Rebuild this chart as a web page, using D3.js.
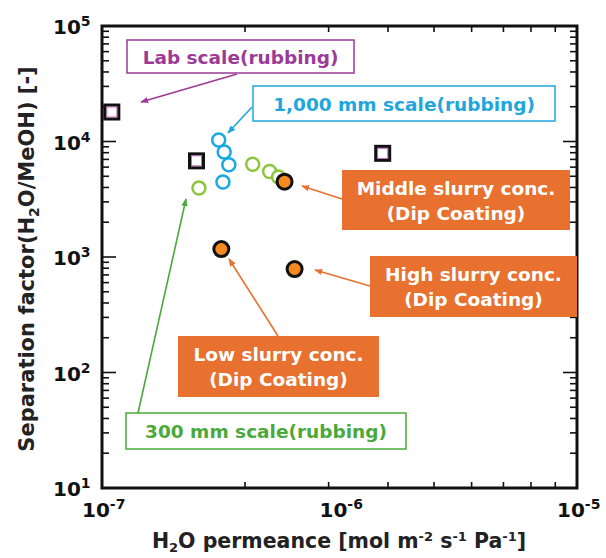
<!DOCTYPE html>
<html>
<head>
<meta charset="utf-8">
<script src="https://cdn.jsdelivr.net/npm/d3@7"></script>
<style>
  html, body { margin: 0; padding: 0; background: #fff; }
  svg { display: block; font-family: "DejaVu Sans", Verdana, sans-serif; }
</style>
</head>
<body>
<svg id="chart" width="606" height="558"></svg>
<script>
(function () {
  "use strict";

  // values: [permeance, separation factor]
  const labScale = [[1.1e-7, 1.8e4], [2.5e-7, 6.8e3], [1.52e-6, 7.9e3]];
  const scale1000 = [[3.1e-7, 1.03e4], [3.27e-7, 8.1e3], [3.42e-7, 6.3e3], [3.23e-7, 4.46e3]];
  const scale300 = [[2.56e-7, 3.95e3], [4.31e-7, 6.35e3], [5.08e-7, 5.5e3], [5.54e-7, 4.93e3]];
  const dipCoating = [[5.87e-7, 4.49e3], [3.18e-7, 1.17e3], [6.47e-7, 787]];

  const xMajor = [1e-7, 1e-6, 1e-5];
  const yMajor = [1e1, 1e2, 1e3, 1e4, 1e5];
  // the x minor ticks in the figure are not placed at 2..9 of each decade
  const xMinor = [4e-7, 9e-7, 1.6e-6, 2.5e-6, 3.6e-6, 4.9e-6, 6.4e-6, 8.1e-6];

  const notes = [
    { lines: ["Lab scale(rubbing)"], color: "#9c3a96", box: [127, 40, 354, 73], fill: false, from: [237, 74], to: [141, 102] },
    { lines: ["1,000 mm scale(rubbing)"], color: "#1ea6dd", box: [253, 86, 555, 121], fill: false, from: [252, 107], to: [228, 133] },
    { lines: ["Middle slurry conc.", "(Dip Coating)"], color: "#e8712f", box: [342, 170, 570, 230], fill: true, from: [342, 199], to: [302, 186] },
    { lines: ["High slurry conc.", "(Dip Coating)"], color: "#e8712f", box: [370, 256, 577, 317], fill: true, from: [370, 286], to: [315, 270] },
    { lines: ["Low slurry conc.", "(Dip Coating)"], color: "#e8712f", box: [178, 336, 379, 397], fill: true, from: [278, 336], to: [229, 259] },
    { lines: ["300 mm scale(rubbing)"], color: "#4aa93a", box: [126, 413, 406, 449], fill: false, from: [138, 413], to: [186, 199] }
  ];

  const margin = { top: 26, right: 29, bottom: 70, left: 102 };
  const W = 606, H = 558;
  const svg = d3.select("#chart");

  const x = d3.scaleLog().domain([1e-7, 1e-5]).range([margin.left, W - margin.right]);
  const y = d3.scaleLog().domain([1e1, 1e5]).range([H - margin.bottom, margin.top]);

  const yMinor = [];
  yMajor.slice(0, -1).forEach(v => d3.range(2, 10).forEach(k => yMinor.push(v * k)));

  const x0 = x.range()[0], x1 = x.range()[1], y0 = y.range()[0], y1 = y.range()[1];

  // ticks, all pointing inward
  const tickG = svg.append("g").attr("stroke", "#111").attr("stroke-width", 1.6);
  tickG.selectAll(".xt").data(xMinor).join("line")
    .attr("x1", d => x(d)).attr("x2", d => x(d)).attr("y1", y0).attr("y2", y0 - 6);
  tickG.selectAll(".xtt").data(xMinor).join("line")
    .attr("x1", d => x(d)).attr("x2", d => x(d)).attr("y1", y1).attr("y2", y1 + 6);
  [[x0, 1], [x1, -1]].forEach(([px, dir]) => {
    tickG.append("g").selectAll("line").data(yMinor).join("line")
      .attr("x1", px).attr("x2", px + dir * 7).attr("y1", d => y(d)).attr("y2", d => y(d));
    tickG.append("g").selectAll("line").data(yMajor.slice(1, -1)).join("line")
      .attr("x1", px).attr("x2", px + dir * 14).attr("y1", d => y(d)).attr("y2", d => y(d));
  });

  svg.append("rect")
    .attr("x", x0).attr("y", y1).attr("width", x1 - x0).attr("height", y0 - y1)
    .attr("fill", "none").attr("stroke", "#111").attr("stroke-width", 3);

  function powerLabel(sel, exp) {
    sel.append("tspan").text("10");
    sel.append("tspan").attr("dy", -8).attr("font-size", 14).text(exp);
  }

  svg.append("g").selectAll("text").data(xMajor).join("text")
    .attr("x", d => x(d) - 20).attr("y", y0 + 29)
    .attr("font-size", 20).attr("font-weight", "bold").attr("fill", "#111")
    .each(function (d) { powerLabel(d3.select(this), Math.round(Math.log10(d))); });

  svg.append("g").selectAll("text").data(yMajor).join("text")
    .attr("x", x0 - 49).attr("y", d => y(d) + 8)
    .attr("font-size", 20).attr("font-weight", "bold").attr("fill", "#111")
    .each(function (d) { powerLabel(d3.select(this), Math.round(Math.log10(d))); });

  // axis titles
  const xt = svg.append("text")
    .attr("x", 339).attr("y", 548).attr("text-anchor", "middle")
    .attr("font-size", 20.5).attr("font-weight", "bold").attr("fill", "#222");
  xt.append("tspan").text("H");
  xt.append("tspan").attr("font-size", 13).attr("dy", 4).text("2");
  xt.append("tspan").attr("dy", -4).text("O permeance [mol m");
  xt.append("tspan").attr("font-size", 13).attr("dy", -7).text("-2");
  xt.append("tspan").attr("dy", 7).text(" s");
  xt.append("tspan").attr("font-size", 13).attr("dy", -7).text("-1");
  xt.append("tspan").attr("dy", 7).text(" Pa");
  xt.append("tspan").attr("font-size", 13).attr("dy", -7).text("-1");
  xt.append("tspan").attr("dy", 7).text("]");

  const yt = svg.append("text")
    .attr("transform", "translate(34,259) rotate(-90)").attr("text-anchor", "middle")
    .attr("font-size", 21).attr("font-weight", "bold").attr("fill", "#222");
  yt.append("tspan").text("Separation factor(H");
  yt.append("tspan").attr("font-size", 14).attr("dy", 5).text("2");
  yt.append("tspan").attr("dy", -5).text("O/MeOH) [-]");

  // arrow heads
  const defs = svg.append("defs");
  notes.forEach((n, i) => {
    defs.append("marker")
      .attr("id", "arrow" + i).attr("viewBox", "0 0 10 10")
      .attr("refX", 9).attr("refY", 5).attr("markerWidth", 8).attr("markerHeight", 8)
      .attr("markerUnits", "userSpaceOnUse").attr("orient", "auto")
      .append("path").attr("d", "M0,1 L10,5 L0,9 Z").attr("fill", n.color);
  });

  // markers
  const pts = svg.append("g");
  pts.selectAll(".lab").data(labScale).join("g").each(function (d) {
    const g = d3.select(this);
    g.append("rect").attr("x", x(d[0]) - 7).attr("y", y(d[1]) - 7).attr("width", 14).attr("height", 14)
      .attr("fill", "#fff").attr("stroke", "#111").attr("stroke-width", 3);
    g.append("rect").attr("x", x(d[0]) - 5).attr("y", y(d[1]) - 5).attr("width", 10).attr("height", 10)
      .attr("fill", "none").attr("stroke", "#b04ab0").attr("stroke-width", 0.8);
  });
  pts.selectAll(".g300").data(scale300).join("circle")
    .attr("cx", d => x(d[0])).attr("cy", d => y(d[1])).attr("r", 6.5)
    .attr("fill", "#fff").attr("stroke", "#8cc63e").attr("stroke-width", 2.5);
  pts.selectAll(".b1000").data(scale1000).join("circle")
    .attr("cx", d => x(d[0])).attr("cy", d => y(d[1])).attr("r", 6.5)
    .attr("fill", "#fff").attr("stroke", "#19a9e3").attr("stroke-width", 2.5);
  pts.selectAll(".dip").data(dipCoating).join("circle")
    .attr("cx", d => x(d[0])).attr("cy", d => y(d[1])).attr("r", 7.5)
    .attr("fill", "#f7891f").attr("stroke", "#111").attr("stroke-width", 3);

  // annotations
  const ann = svg.append("g");
  notes.forEach((n, i) => {
    const [bx0, by0, bx1, by1] = n.box;
    ann.append("line")
      .attr("x1", n.from[0]).attr("y1", n.from[1]).attr("x2", n.to[0]).attr("y2", n.to[1])
      .attr("stroke", n.color).attr("stroke-width", 1.6).attr("marker-end", `url(#arrow${i})`);
    ann.append("rect")
      .attr("x", bx0).attr("y", by0).attr("width", bx1 - bx0).attr("height", by1 - by0)
      .attr("fill", n.fill ? n.color : "#fff").attr("stroke", n.color).attr("stroke-width", n.fill ? 0 : 1.5);
    const cy = (by0 + by1) / 2;
    const step = 25;
    n.lines.forEach((t, k) => {
      ann.append("text")
        .attr("x", (bx0 + bx1) / 2).attr("y", cy + (k - (n.lines.length - 1) / 2) * step + 7)
        .attr("text-anchor", "middle").attr("font-size", 18.5).attr("font-weight", "bold")
        .attr("fill", n.fill ? "#fff" : n.color).text(t);
    });
  });
})();
</script>
</body>
</html>
